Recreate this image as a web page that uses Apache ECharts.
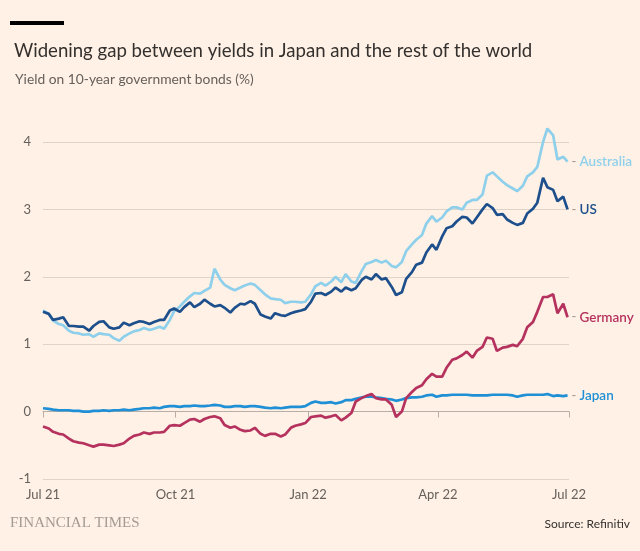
<!DOCTYPE html>
<html>
<head>
<meta charset="utf-8">
<script src="https://cdn.jsdelivr.net/npm/echarts@6/dist/echarts.min.js"></script>
<style>
html,body{margin:0;padding:0;background:#FFF1E5;}
#chart{width:640px;height:551px;}
</style>
</head>
<body>
<div id="chart"></div>
<script>
// Observation dates (Mondays and Thursdays)
const dates = [
 '2021-07-01','2021-07-05','2021-07-08','2021-07-12','2021-07-15','2021-07-19','2021-07-22','2021-07-26','2021-07-29',
 '2021-08-02','2021-08-05','2021-08-09','2021-08-12','2021-08-16','2021-08-19','2021-08-23','2021-08-26','2021-08-30',
 '2021-09-02','2021-09-06','2021-09-09','2021-09-13','2021-09-16','2021-09-20','2021-09-23','2021-09-27','2021-09-30',
 '2021-10-04','2021-10-07','2021-10-11','2021-10-14','2021-10-18','2021-10-21','2021-10-25','2021-10-28',
 '2021-11-01','2021-11-04','2021-11-08','2021-11-11','2021-11-15','2021-11-18','2021-11-22','2021-11-25','2021-11-29',
 '2021-12-02','2021-12-06','2021-12-09','2021-12-13','2021-12-16','2021-12-20','2021-12-23','2021-12-27','2021-12-30',
 '2022-01-03','2022-01-06','2022-01-10','2022-01-13','2022-01-17','2022-01-20','2022-01-24','2022-01-27','2022-01-31',
 '2022-02-03','2022-02-07','2022-02-10','2022-02-14','2022-02-17','2022-02-21','2022-02-24','2022-02-28',
 '2022-03-03','2022-03-07','2022-03-10','2022-03-14','2022-03-17','2022-03-21','2022-03-24','2022-03-28','2022-03-31',
 '2022-04-04','2022-04-07','2022-04-11','2022-04-14','2022-04-18','2022-04-21','2022-04-25','2022-04-28',
 '2022-05-02','2022-05-05','2022-05-09','2022-05-12','2022-05-16','2022-05-19','2022-05-23','2022-05-26','2022-05-30',
 '2022-06-02','2022-06-06','2022-06-09','2022-06-13','2022-06-16','2022-06-20','2022-06-23','2022-06-27','2022-06-30'
];
const australia = [
 1.50,1.45,1.35,1.30,1.28,1.20,1.17,1.16,1.14,
 1.15,1.11,1.16,1.15,1.14,1.09,1.05,1.11,1.16,
 1.19,1.21,1.24,1.21,1.23,1.26,1.23,1.36,1.49,
 1.56,1.63,1.71,1.76,1.75,1.79,1.84,2.12,
 1.96,1.88,1.83,1.80,1.84,1.87,1.90,1.88,1.80,
 1.74,1.68,1.67,1.66,1.61,1.63,1.63,1.62,1.63,
 1.74,1.86,1.91,1.87,1.93,2.00,1.92,2.04,1.93,
 1.91,2.08,2.19,2.22,2.25,2.21,2.24,2.16,
 2.14,2.22,2.38,2.48,2.55,2.62,2.79,2.90,2.82,
 2.88,2.97,3.03,3.03,3.00,3.10,3.14,3.14,
 3.22,3.50,3.55,3.49,3.41,3.36,3.31,3.27,3.35,
 3.49,3.55,3.63,4.00,4.20,4.10,3.74,3.78,3.71
];
const us = [
 1.48,1.45,1.36,1.38,1.40,1.27,1.27,1.26,1.26,
 1.20,1.27,1.33,1.34,1.25,1.23,1.25,1.32,1.28,
 1.31,1.34,1.33,1.30,1.33,1.36,1.36,1.50,1.53,
 1.48,1.55,1.62,1.55,1.60,1.66,1.60,1.56,
 1.58,1.54,1.47,1.54,1.60,1.59,1.64,1.60,1.44,
 1.41,1.38,1.46,1.43,1.42,1.46,1.48,1.50,1.52,
 1.63,1.75,1.76,1.73,1.78,1.84,1.78,1.84,1.80,
 1.83,1.95,2.00,1.96,2.04,1.96,1.98,1.85,
 1.73,1.77,1.97,2.07,2.18,2.21,2.36,2.48,2.40,
 2.60,2.72,2.75,2.82,2.89,2.88,2.79,2.88,
 3.00,3.08,3.02,2.92,2.93,2.85,2.80,2.77,2.80,
 2.94,3.01,3.10,3.47,3.33,3.29,3.12,3.19,3.00
];
const germany = [
 -0.22,-0.25,-0.30,-0.33,-0.34,-0.40,-0.44,-0.46,-0.47,
 -0.50,-0.52,-0.49,-0.49,-0.50,-0.51,-0.49,-0.47,-0.40,
 -0.36,-0.34,-0.31,-0.33,-0.31,-0.31,-0.30,-0.21,-0.20,
 -0.21,-0.17,-0.12,-0.11,-0.15,-0.11,-0.08,-0.07,
 -0.10,-0.20,-0.24,-0.22,-0.27,-0.29,-0.28,-0.24,-0.33,
 -0.36,-0.33,-0.33,-0.37,-0.34,-0.24,-0.21,-0.19,-0.17,
 -0.08,-0.07,-0.06,-0.09,-0.07,-0.05,-0.13,-0.09,-0.02,
 0.15,0.20,0.23,0.26,0.20,0.18,0.18,0.10,
 -0.08,0.00,0.20,0.29,0.35,0.39,0.48,0.56,0.52,
 0.52,0.65,0.77,0.79,0.84,0.89,0.80,0.90,
 0.96,1.10,1.08,0.90,0.95,0.96,0.99,0.97,1.08,
 1.25,1.33,1.48,1.70,1.70,1.74,1.46,1.60,1.40
];
const japan = [
 0.05,0.04,0.03,0.02,0.02,0.02,0.01,0.01,0.00,
 0.00,0.01,0.01,0.02,0.01,0.02,0.02,0.03,0.02,
 0.03,0.04,0.05,0.05,0.06,0.05,0.07,0.08,0.08,
 0.07,0.08,0.08,0.09,0.08,0.08,0.09,0.10,
 0.09,0.07,0.07,0.08,0.08,0.07,0.08,0.08,0.07,
 0.06,0.05,0.06,0.05,0.06,0.07,0.07,0.07,0.08,
 0.13,0.15,0.13,0.13,0.14,0.12,0.14,0.17,0.17,
 0.19,0.21,0.22,0.22,0.21,0.20,0.19,0.18,
 0.16,0.18,0.20,0.21,0.21,0.22,0.24,0.25,0.22,
 0.24,0.24,0.25,0.25,0.25,0.25,0.24,0.24,
 0.24,0.24,0.25,0.25,0.25,0.25,0.24,0.22,0.24,
 0.25,0.25,0.25,0.25,0.26,0.23,0.24,0.23,0.24
];
const xTickDates = ['2021-07-01','2021-10-01','2022-01-01','2022-04-01','2022-07-01'];
const xTickLabels = ['Jul 21','Oct 21','Jan 22','Apr 22','Jul 22'];
const seriesNames = ['Australia','US','Germany','Japan'];

const FONT = 'Lato, "Open Sans", sans-serif';
function toTime(s){ const p = s.split('-').map(Number); return Date.UTC(p[0], p[1]-1, p[2]); }
const tickTimes = xTickDates.map(toTime);

function makeSeries(name, values, color){
  return {
    name: name,
    type: 'line',
    data: dates.map((d,i)=>[toTime(d), values[i]]),
    showSymbol: false,
    symbol: 'none',
    clip: false,
    lineStyle: {color: color, width: 2.7},
    itemStyle: {color: color},
    emphasis: {disabled: true},
    endLabel: {
      show: true,
      distance: 4,
      formatter: function(){ return '{d|-} {n|' + name + '}'; },
      rich: {
        d: {color: '#a09890', fontSize: 13, fontFamily: FONT},
        n: {color: color, fontSize: 13.5, fontFamily: FONT, fontWeight: 600}
      }
    }
  };
}

const chart = echarts.init(document.getElementById('chart'), null, {renderer: 'canvas'});
chart.setOption({
  backgroundColor: '#FFF1E5',
  animation: false,
  textStyle: {fontFamily: FONT},
  title: [
    {text: 'Widening gap between yields in Japan and the rest of the world', left: 9, top: 36,
     textStyle: {fontFamily: FONT, fontSize: 18.6, fontWeight: 'normal', color: '#33302E'}},
    {text: 'Yield on 10-year government bonds (%)', left: 10, top: 68,
     textStyle: {fontFamily: FONT, fontSize: 13.8, fontWeight: 'normal', color: '#66605C'}}
  ],
  graphic: [
    {type: 'rect', left: 10, top: 21, shape: {width: 54, height: 4}, style: {fill: '#000000'}},
    {type: 'text', left: 10, top: 516, style: {text: 'FINANCIAL TIMES', font: '15px "Liberation Serif", "DejaVu Serif", serif', fill: '#A49B93'}},
    {type: 'text', right: 10, top: 518, style: {text: 'Source: Refinitiv', font: '12px ' + FONT, fill: '#33302E'}}
  ],
  grid: {left: 43, right: 71, top: 142, bottom: 72},
  xAxis: {
    type: 'value',
    min: tickTimes[0],
    max: tickTimes[tickTimes.length-1],
    axisLine: {show: true, lineStyle: {color: '#B8AEA5', width: 1}},
    axisTick: {show: true, length: 6, lineStyle: {color: '#B8AEA5'}, customValues: tickTimes},
    axisLabel: {
      customValues: tickTimes,
      color: '#66605C', fontSize: 13, fontFamily: FONT, margin: 9,
      formatter: function(v){ const i = tickTimes.indexOf(v); return i >= 0 ? xTickLabels[i] : ''; }
    },
    splitLine: {show: false}
  },
  yAxis: {
    type: 'value',
    min: -1, max: 4, interval: 1,
    axisLine: {show: false},
    axisTick: {show: false},
    axisLabel: {color: '#66605C', fontSize: 13, fontFamily: FONT, margin: 12},
    splitLine: {lineStyle: {color: '#E0D4C9', width: 1}}
  },
  series: [
    makeSeries(seriesNames[3], japan, '#1F8FD6'),
    makeSeries(seriesNames[0], australia, '#8ED0EC'),
    makeSeries(seriesNames[1], us, '#1C4F8B'),
    makeSeries(seriesNames[2], germany, '#B5325E')
  ]
});
</script>
</body>
</html>
